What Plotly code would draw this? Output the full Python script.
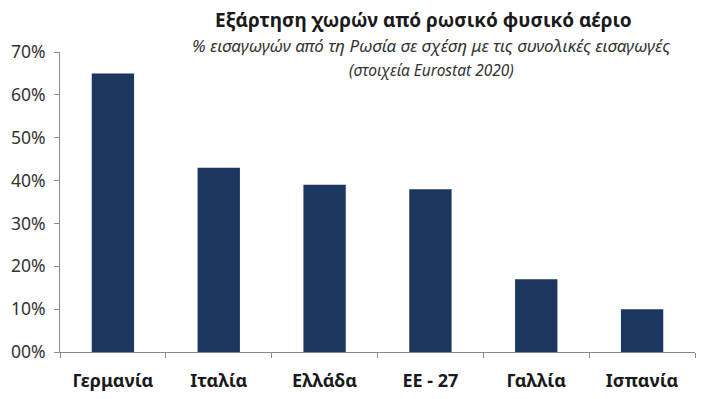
import plotly.graph_objects as go

categories = ["Γερμανία", "Ιταλία", "Ελλάδα", "ΕΕ - 27", "Γαλλία", "Ισπανία"]
values = [0.65, 0.43, 0.39, 0.38, 0.17, 0.10]
y_tick_values = [0, 0.1, 0.2, 0.3, 0.4, 0.5, 0.6, 0.7]
y_tick_labels = ["00%", "10%", "20%", "30%", "40%", "50%", "60%", "70%"]

title = "Εξάρτηση χωρών από ρωσικό φυσικό αέριο"
subtitle1 = "% εισαγωγών από τη Ρωσία σε σχέση με τις συνολικές εισαγωγές"
subtitle2 = "(στοιχεία Eurostat 2020)"

FONT = "Noto Sans"

fig = go.Figure(go.Bar(x=categories, y=values, marker_color="#1C375F",
                       marker_line_width=0, width=0.4))

fig.update_layout(
    width=702, height=391,
    margin=dict(l=52, r=15, t=44, b=47),
    paper_bgcolor="white", plot_bgcolor="white",
    showlegend=False,
    font=dict(family=FONT, color="#222222"),
    xaxis=dict(type="category", showline=True, linecolor="#8c8c8c", linewidth=1,
               ticks="outside", tickson="boundaries", ticklen=5, tickcolor="#8c8c8c",
               ticklabelstandoff=12, automargin=False,
               tickfont=dict(family=FONT, size=18, color="#1a1a1a", weight="bold"),
               showgrid=False, zeroline=False),
    yaxis=dict(range=[0, 0.7], tickvals=y_tick_values, ticktext=y_tick_labels,
               showline=True, linecolor="#8c8c8c", linewidth=1,
               ticks="outside", ticklen=5, tickcolor="#8c8c8c",
               ticklabelstandoff=5, automargin=False,
               tickfont=dict(family=FONT, size=17.5, color="#333333"),
               showgrid=False, zeroline=False),
    bargap=0.6,
)

fig.add_annotation(text="<b>" + title + "</b>", xref="paper", yref="paper",
                   x=0.572, y=1.107, xanchor="center", yanchor="middle",
                   showarrow=False, font=dict(family=FONT, size=19, color="#1a1a1a"))
fig.add_annotation(text="<i>" + subtitle1 + "</i>", xref="paper", yref="paper",
                   x=0.585, y=1.02, xanchor="center", yanchor="middle",
                   showarrow=False, font=dict(family=FONT, size=17, color="#333333"))
fig.add_annotation(text="<i>" + subtitle2 + "</i>", xref="paper", yref="paper",
                   x=0.585, y=0.94, xanchor="center", yanchor="middle",
                   showarrow=False, font=dict(family=FONT, size=15.5, color="#333333"))

fig.write_html("out.html")
